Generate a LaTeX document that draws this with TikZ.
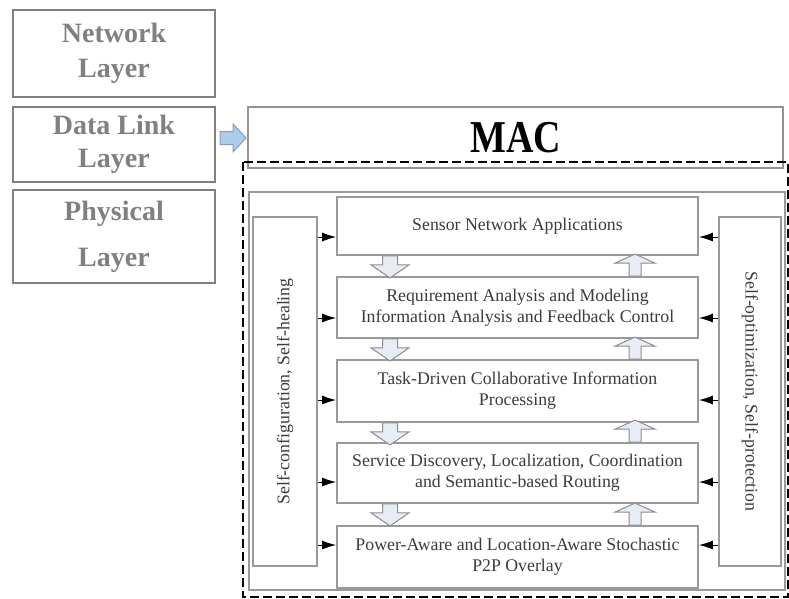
\documentclass[tikz,border=0pt]{standalone}
\usepackage{fontspec}
\usepackage{graphicx}
\setmainfont{Liberation Serif}
\usetikzlibrary{arrows.meta,calc}

\definecolor{edgegray}{HTML}{9A9A9A}
\definecolor{layertext}{HTML}{808080}
\definecolor{bodytext}{HTML}{3C3C3C}
\definecolor{arrowfill}{HTML}{E8ECF4}
\definecolor{arrowedge}{HTML}{8C8C96}
\definecolor{bluefill}{HTML}{AFCBEA}
\definecolor{blueedge}{HTML}{7F9FC4}

% hollow block arrows, drawn from a reference point on a box edge
\newcommand\downblock[1]{\draw[blockarrow,shift={(#1)}] (-7.5,0) -- (7.5,0) -- (7.5,9) -- (19,9) -- (0,22) -- (-19,9) -- (-7.5,9) -- cycle;}
\newcommand\upblock[1]{\draw[blockarrow,shift={(#1)}] (-6,0) -- (6,0) -- (6,-13) -- (20,-13) -- (0,-22) -- (-20,-13) -- (-6,-13) -- cycle;}

\begin{document}
\begin{tikzpicture}[x=1pt,y=-1pt,
  layerbox/.style={draw=layertext, line width=2pt, text=layertext,
    font=\bfseries\fontsize{28}{33}\selectfont, align=center,
    inner sep=0pt, minimum width=202pt},
  panel/.style={draw=edgegray, line width=1.8pt, inner sep=0pt},
  stagebox/.style={panel, fill=white, minimum width=361pt, text=bodytext,
    align=center, font=\fontsize{17.8}{21}\selectfont},
  sidebox/.style={panel, minimum height=349pt},
  sidetext/.style={text=bodytext, font=\fontsize{17.8}{21}\selectfont},
  feed/.style={line width=1pt, draw=black,
    -{Latex[length=14pt,width=9pt]}},
  blockarrow/.style={draw=arrowedge, fill=arrowfill, line width=1pt},
  bluearrow/.style={draw=blueedge, fill=bluefill, line width=1pt},
  mapping/.style={draw=black, line width=2.6pt, dash pattern=on 9pt off 4pt},
]
\useasboundingbox (0,0) rectangle (789,598);
\fill[white] (0,0) rectangle (789,598);

% protocol stack on the left
\node[layerbox, minimum height=87pt] (net) at (114,53.5) {Network\\[2pt]Layer};
\node[layerbox, minimum height=75pt] (dl)  at (114,144.5) {Data Link\\Layer};
\node[layerbox, minimum height=93pt] (phy) at (114,236.5) {Physical\\[13pt]Layer};

% MAC header
\node[panel, draw=gray!85, minimum width=535pt, minimum height=61pt] (mac) at (515.5,137.5)
  {\fontsize{38}{40}\selectfont\bfseries\scalebox{1}[1.2]{MAC}};

% Data Link -> MAC
\coordinate (bl) at ($(dl.east)+(4,-6.5)$);
\draw[bluearrow,shift={(bl)}] (0,-6.5) -- (13,-6.5) -- (13,-14) -- (26,0) -- (13,14) -- (13,6.5) -- (0,6.5) -- cycle;

% dashed mapping region
\draw[mapping] (243,162) rectangle (788,597);

% architecture frame
\node[panel, minimum width=536pt, minimum height=398pt] (frame) at (517,391) {};

% side management functions
\node[sidebox, minimum width=64pt] (lbox) at (285,391.5) {};
\node[sidebox, minimum width=62pt] (rbox) at (750,391.5) {};
\node[sidetext, rotate=90]  (ltext) at (lbox.center) {Self-configuration, Self-healing};
\node[sidetext, rotate=-90] (rtext) at (rbox.center) {Self-optimization, Self-protection};

% layered stages
\node[stagebox, minimum height=58pt] (app)  at (517.5,226) {Sensor Network Applications};
\node[stagebox, minimum height=61pt] (req)  at (517.5,307.5) {Requirement Analysis and Modeling\\Information Analysis and Feedback Control};
\node[stagebox, minimum height=62pt] (task) at (517.5,391) {Task-Driven Collaborative Information\\Processing};
\node[stagebox, minimum height=60pt] (serv) at (517.5,473) {Service Discovery, Localization, Coordination\\and Semantic-based Routing};
\node[stagebox, minimum height=62pt] (pow)  at (517.5,557) {Power-Aware and Location-Aware Stochastic\\P2P Overlay};

% feedback arrows from both side boxes
\foreach \n/\yy in {app/237, req/318, task/400, serv/482, pow/545} {
  \coordinate (lv) at (0,\yy);
  \draw[feed] (lbox.east |- lv) -- (\n.west |- lv);
  \draw[feed] (rbox.west |- lv) -- (\n.east |- lv);
}

% data flow between stages
\coordinate (dnx) at (390,0);
\coordinate (upx) at (635,0);
\foreach \a/\b in {app/req, req/task, task/serv, serv/pow} {
  \coordinate (dp) at (\a.south -| dnx);
  \downblock{dp}
  \coordinate (up) at (\b.north -| upx);
  \upblock{up}
}
\end{tikzpicture}
\end{document}
